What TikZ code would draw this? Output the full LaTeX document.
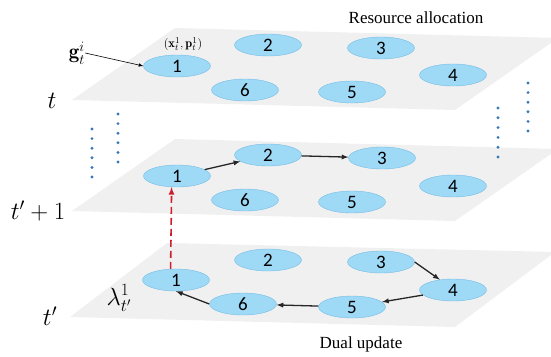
\documentclass[tikz,border=0pt]{standalone}
\usepackage{fontspec}
\newfontfamily\numfont{Carlito}
\newfontfamily\capfont{Liberation Serif}
\usetikzlibrary{shapes.geometric}
\definecolor{bubble}{RGB}{158,217,246}
\definecolor{bubbleline}{RGB}{118,188,228}
\definecolor{sheet}{RGB}{240,240,240}
\definecolor{dotblue}{RGB}{58,120,185}
\definecolor{dashred}{RGB}{205,30,45}
\tikzset{
  agent/.style={ellipse,fill=bubble,draw=bubbleline,line width=0.4pt,minimum width=67pt,minimum height=22pt,inner sep=0pt,font=\numfont\fontsize{19}{19}\selectfont},
  flow/.style={-latex,line width=1.3pt,black!85},
  layerlabel/.style={inner sep=0pt,font=\fontsize{24}{26}\selectfont},
  caption/.style={inner sep=0pt,font=\capfont\fontsize{17}{19}\selectfont},
}
\begin{document}
\begin{tikzpicture}[x=1pt,y=-1pt]
\useasboundingbox (0,0) rectangle (551,356);
% the three sheets
\fill[sheet] (72,100) -- (455,110) -- (558,38) -- (175,28) -- cycle;
\fill[sheet] (72,211) -- (455,221) -- (558,149) -- (175,139) -- cycle;
\fill[sheet] (70,317) -- (455,327) -- (555,252) -- (167,243) -- cycle;

% top sheet: t
\node[agent] (t1) at (177,66) {1};
\node[agent] (t2) at (268,45) {2};
\node[agent] (t3) at (381,48) {3};
\node[agent] (t4) at (453,75) {4};
\node[agent] (t5) at (352,92) {5};
\node[agent] (t6) at (245,90) {6};
% middle sheet: t'+1
\node[agent] (m1) at (177,176) {1};
\node[agent] (m2) at (268,155) {2};
\node[agent] (m3) at (382,158) {3};
\node[agent] (m4) at (453,186) {4};
\node[agent] (m5) at (352,202) {5};
\node[agent] (m6) at (245,200) {6};
% bottom sheet: t'
\node[agent] (b1) at (176,280) {1};
\node[agent] (b2) at (268,260) {2};
\node[agent] (b3) at (381,262) {3};
\node[agent] (b4) at (453,290) {4};
\node[agent] (b5) at (352,307) {5};
\node[agent] (b6) at (243,304) {6};

% labels
\node[caption] (res) at (416,18) {Resource allocation};
\node[caption] (dual) at (361,344) {Dual update};
\node[layerlabel] (lt) at (52,101) {$t$};
\node[layerlabel] (ltp) at (38,211) {$t'+1$};
\node[layerlabel] (ltq) at (50,316) {$t'$};
\node[layerlabel] (lam) at (119,298) {$\lambda_{t'}^{1}$};
\node[inner sep=0pt,font=\fontsize{21}{22}\selectfont] (g) at (77,53) {$\mathbf{g}_t^i$};
\node[inner sep=0pt,font=\fontsize{12.5}{13}\selectfont] (xp) at (183,44) {$(\mathbf{x}_t^1,\mathbf{p}_t^1)$};

% arrows
\draw[-latex,line width=0.6pt] (g.east) -- (t1.west);
\draw[flow] (m1) -- (m2);
\draw[flow] (m2) -- (m3);
\draw[flow] (b3.east) -- (b4.142);
\draw[flow] (b4) -- (b5);
\draw[flow] (b5) -- (b6);
\draw[flow] (b6.west) -- (b1.south);
\draw[-latex,dashred,line width=1.6pt,dash pattern=on 7pt off 4pt] (b1.116) -- (m1.244);

% dots between sheets
\foreach \k in {0,...,5} {
  \fill[dotblue] (92,129+9.6*\k) circle (1.6pt);
  \fill[dotblue] (118,114+9.6*\k) circle (1.6pt);
  \fill[dotblue] (498,108+9.8*\k) circle (1.6pt);
  \fill[dotblue] (528,83+9.6*\k) circle (1.6pt);
}
\end{tikzpicture}
\end{document}
